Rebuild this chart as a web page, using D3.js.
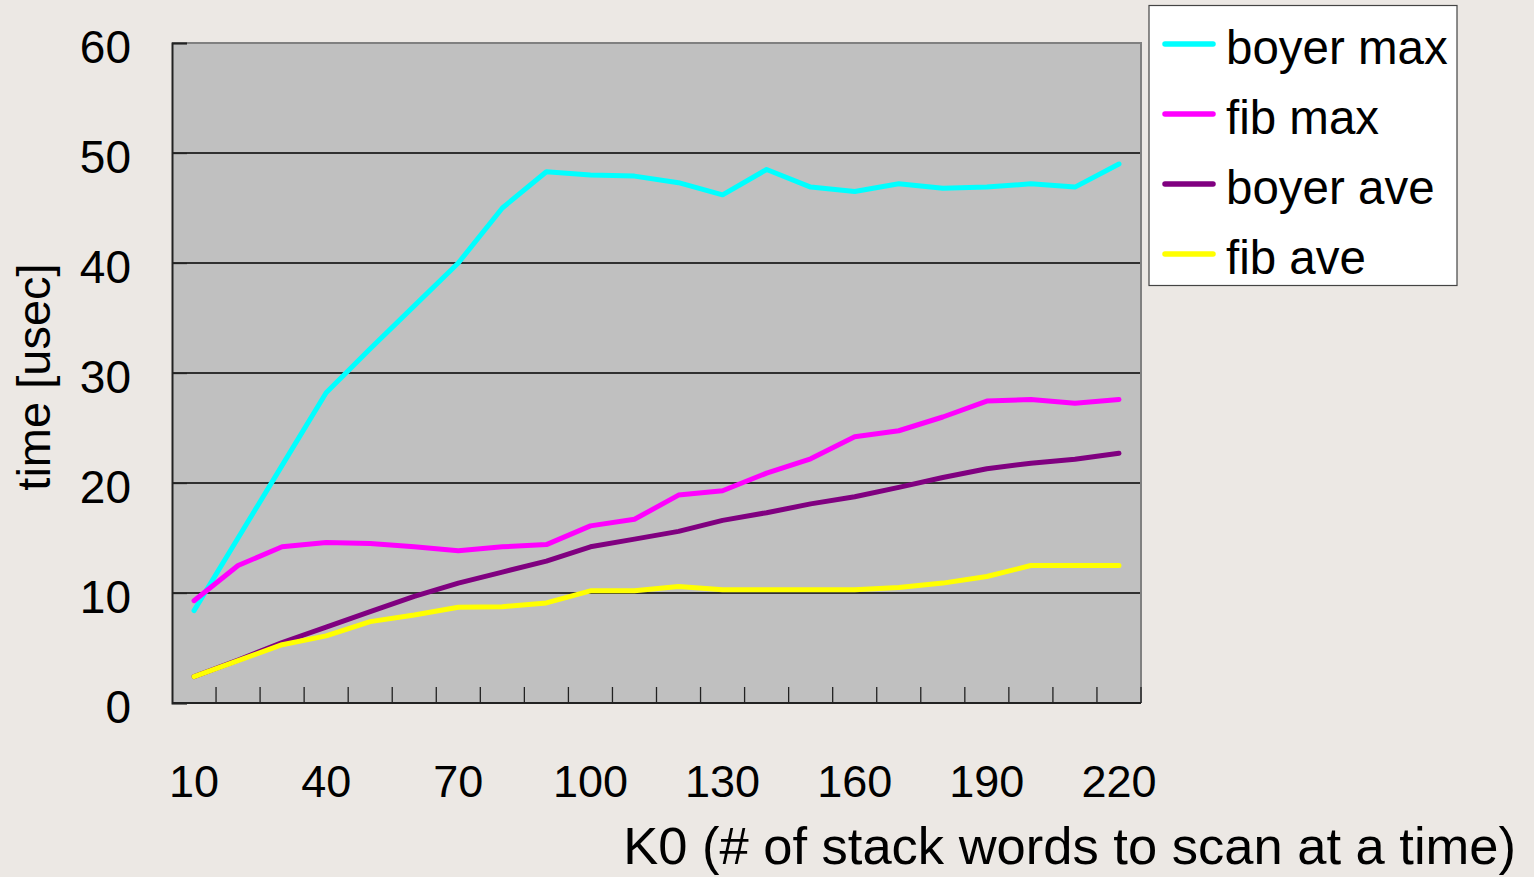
<!DOCTYPE html>
<html><head><meta charset="utf-8">
<script src="https://cdn.jsdelivr.net/npm/d3@7"></script>
<style>
html,body{margin:0;padding:0;background:#ECE8E4;}
svg{display:block;font-family:"Liberation Sans",Arial,sans-serif;}
</style></head>
<body>
<svg id="chart" width="1534" height="877"></svg>
<script>
const categories = [10,20,30,40,50,60,70,80,90,100,110,120,130,140,150,160,170,180,190,200,210,220];
const xTickLabels = [10,40,70,100,130,160,190,220];
const yTicks = [0,10,20,30,40,50,60];
const seriesNames = ["boyer max","fib max","boyer ave","fib ave"];
const seriesColors = ["#00FFFF","#FF00FF","#800080","#FFFF00"];
const boyerMax = [8.4,15.0,21.6,28.2,32.2,36.1,40.0,45.0,48.3,48.0,47.9,47.3,46.2,48.5,46.9,46.5,47.2,46.8,46.9,47.2,46.9,49.0];
const fibMax   = [9.3,12.5,14.2,14.6,14.5,14.2,13.85,14.2,14.4,16.1,16.7,18.9,19.3,20.9,22.2,24.2,24.75,26.0,27.45,27.6,27.25,27.6];
const boyerAve = [2.4,3.9,5.5,6.9,8.3,9.7,10.9,11.9,12.9,14.2,14.9,15.6,16.6,17.3,18.1,18.75,19.6,20.5,21.3,21.8,22.15,22.7];
const fibAve   = [2.4,3.85,5.3,6.1,7.4,8.0,8.7,8.75,9.1,10.2,10.2,10.6,10.3,10.3,10.3,10.3,10.5,10.9,11.5,12.5,12.5,12.5];
const seriesValues = [boyerMax, fibMax, boyerAve, fibAve];

const svg = d3.select("#chart");
const L = 172, R = 1141, T = 43, B = 703;

const x = d3.scaleBand().domain(categories).range([L, R]).padding(0);
const y = d3.scaleLinear().domain([0, 60]).range([B, T]);

svg.append("rect").attr("x", L).attr("y", T).attr("width", R - L).attr("height", B - T).attr("fill", "#C0C0C0");

svg.append("g").selectAll("line").data(yTicks.filter(d => d > 0)).join("line")
  .attr("x1", L).attr("x2", R).attr("y1", d => y(d)).attr("y2", d => y(d))
  .attr("stroke", "#000").attr("stroke-width", 1.3);

svg.append("path").attr("d", `M${L},${T}H${R}V${B}`).attr("fill", "none").attr("stroke", "#808080").attr("stroke-width", 2);

const yAxis = svg.append("g").attr("transform", `translate(${L},0)`)
  .call(d3.axisLeft(y).tickValues(yTicks).tickSize(-15).tickPadding(56).tickFormat(d3.format("d")));
yAxis.select(".domain").attr("stroke", "#222").attr("stroke-width", 2);
yAxis.selectAll(".tick line").attr("stroke", "#222").attr("stroke-width", 1.3);
yAxis.selectAll(".tick text").attr("font-size", 46).attr("fill", "#000").attr("dy", "0.43em")
  .attr("font-family", "Liberation Sans, Arial, sans-serif").attr("x", -41);

const boundaries = categories.slice(1).map(c => x(c)).concat([R]);
svg.append("g").selectAll("line").data(boundaries).join("line")
  .attr("x1", d => d).attr("x2", d => d).attr("y1", B).attr("y2", B - 16)
  .attr("stroke", "#222").attr("stroke-width", 1.3);
svg.append("line").attr("x1", L).attr("x2", R).attr("y1", B).attr("y2", B).attr("stroke", "#222").attr("stroke-width", 2);

const xAxis = svg.append("g").attr("transform", `translate(0,${B})`)
  .call(d3.axisBottom(x).tickValues(xTickLabels).tickSize(0).tickPadding(0));
xAxis.select(".domain").remove();
xAxis.selectAll(".tick text").attr("font-size", 45).attr("fill", "#000")
  .attr("font-family", "Liberation Sans, Arial, sans-serif").attr("y", 94).attr("dy", 0);

const line = d3.line().x((d, i) => x(categories[i]) + x.bandwidth() / 2).y(d => y(d));
svg.append("g").selectAll("path").data(seriesValues).join("path")
  .attr("d", d => line(d)).attr("fill", "none")
  .attr("stroke", (d, i) => seriesColors[i]).attr("stroke-width", 5)
  .attr("stroke-linejoin", "round").attr("stroke-linecap", "round");

svg.append("text").attr("x", 1516).attr("y", 864).attr("text-anchor", "end")
  .attr("font-size", 52.5).attr("fill", "#000").text("K0 (# of stack words to scan at a time)");
svg.append("text").attr("transform", "translate(50,377) rotate(-90)").attr("text-anchor", "middle")
  .attr("font-size", 47).attr("fill", "#000").text("time [usec]");

const lg = svg.append("g");
lg.append("rect").attr("x", 1149).attr("y", 5.5).attr("width", 308).attr("height", 280)
  .attr("fill", "#fff").attr("stroke", "#444").attr("stroke-width", 1.2);
const items = lg.selectAll("g.item").data(seriesNames).join("g").attr("class", "item")
  .attr("transform", (d, i) => `translate(0,${44 + i * 70})`);
items.append("line").attr("x1", 1165).attr("x2", 1213).attr("y1", 0).attr("y2", 0)
  .attr("stroke", (d, i) => seriesColors[i]).attr("stroke-width", 5.5).attr("stroke-linecap", "round");
items.append("text").attr("x", 1226).attr("y", 20).attr("font-size", 47.5).attr("fill", "#000").text(d => d);
</script>
</body></html>
